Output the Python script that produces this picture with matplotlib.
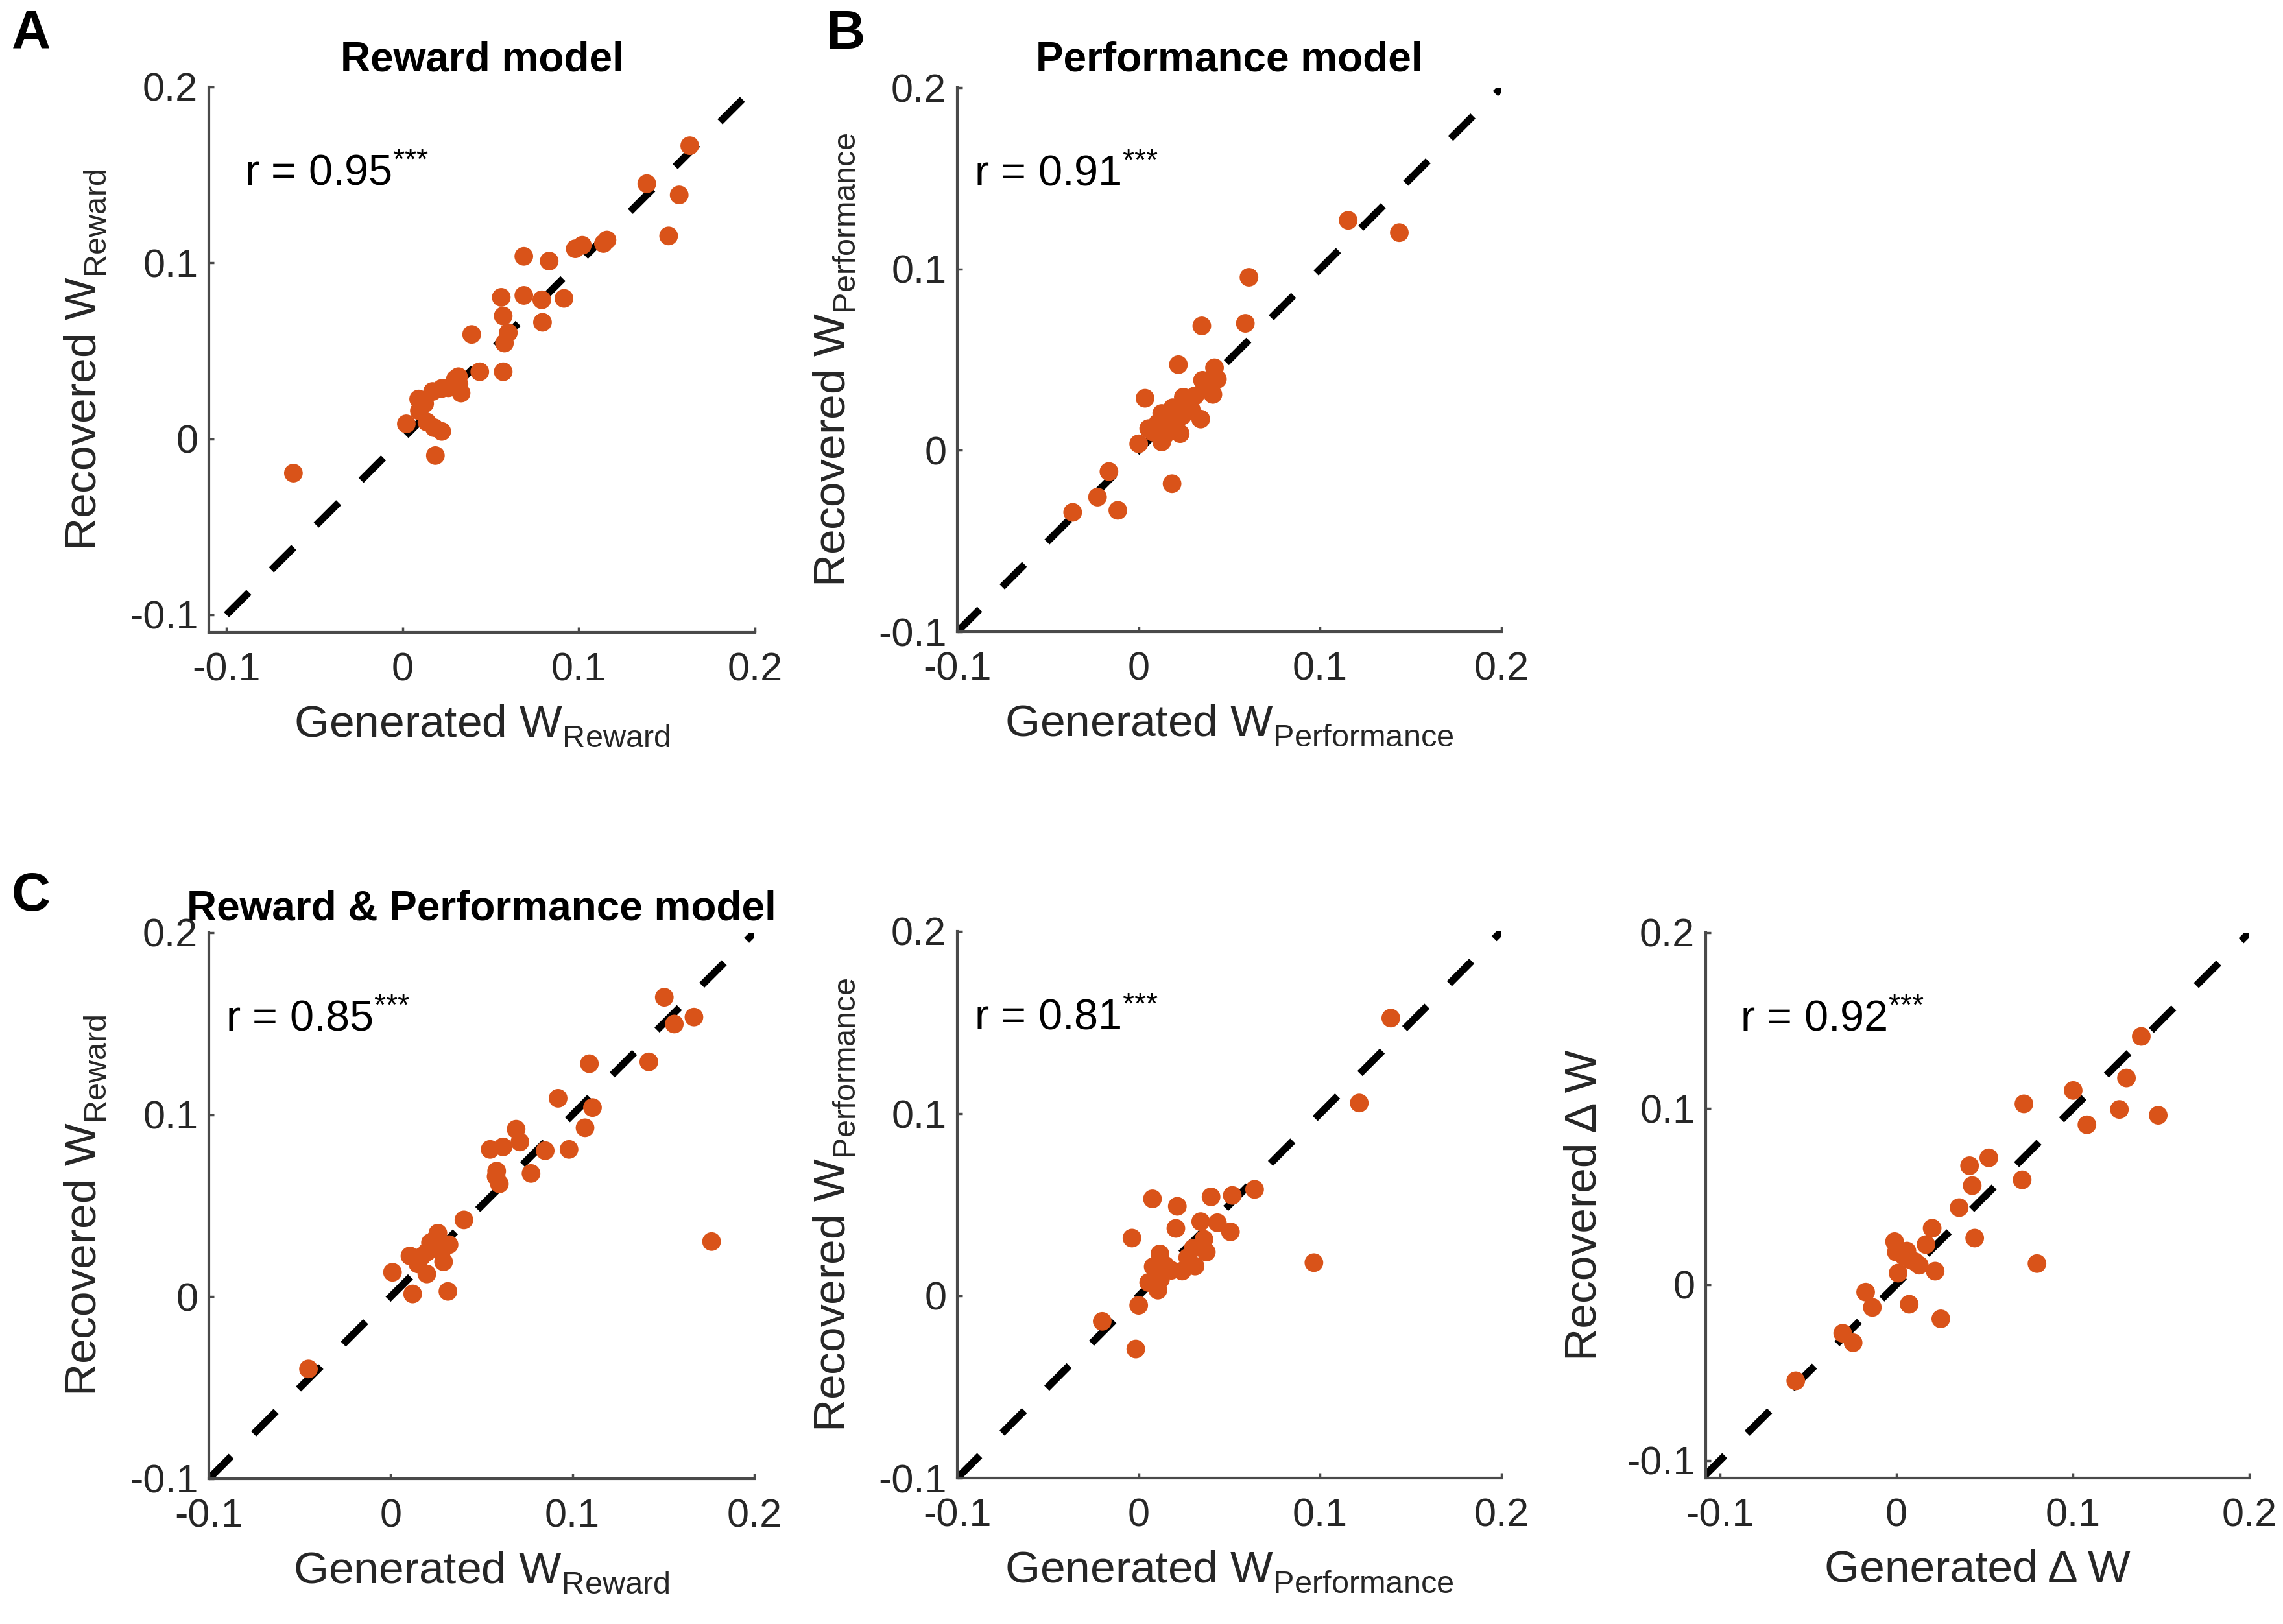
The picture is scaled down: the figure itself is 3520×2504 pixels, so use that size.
import matplotlib
matplotlib.use('Agg')
import matplotlib.pyplot as plt

plt.rcParams['font.family'] = ['Liberation Sans', 'DejaVu Sans']
plt.rcParams['mathtext.fontset'] = 'custom'
plt.rcParams['mathtext.rm'] = 'Liberation Sans'
plt.rcParams['mathtext.it'] = 'Liberation Sans:italic'
plt.rcParams['mathtext.bf'] = 'Liberation Sans:bold'
plt.rcParams['mathtext.default'] = 'regular'

# MATLAB drops subscripts lower than mathtext does
try:
    from matplotlib import _mathtext
    _mathtext.FontConstantsBase.sub1 = 0.45
    _mathtext.FontConstantsBase.sub2 = 0.55
except Exception:
    pass

dot_color = '#D95319'
axis_color = '#4a4a4a'
text_color = '#262626'

# A: reward model (generated, recovered)
a_gen = [-0.062, 0.163, 0.1386, 0.157, 0.151, 0.098, 0.102, 0.114, 0.116, 0.0688,
         0.0832, 0.0916, 0.056, 0.0688, 0.079, 0.0794, 0.0571, 0.060, 0.0578, 0.0392,
         0.0438, 0.0571, 0.0317, 0.0286, 0.0332, 0.0222, 0.017, 0.0091, 0.0095, 0.0021,
         0.0138, 0.018, 0.0222, 0.0186, 0.030, 0.0125, 0.026, 0.032]
a_rec = [-0.0195, 0.1666, 0.145, 0.1386, 0.1153, 0.108, 0.110, 0.111, 0.113, 0.1037,
         0.101, 0.0798, 0.0804, 0.0815, 0.079, 0.0662, 0.0698, 0.0603, 0.0544, 0.0593,
         0.0381, 0.0381, 0.0353, 0.0303, 0.026, 0.0286, 0.0269, 0.0226, 0.0159, 0.0085,
         0.0095, 0.0063, 0.0042, -0.0095, 0.034, 0.020, 0.029, 0.031]

# B: performance model
b_gen = [0.1155, 0.1437, 0.0608, 0.0348, 0.0588, 0.0219, 0.0418, 0.0434, 0.0352, 0.0409,
         0.0035, 0.0246, 0.0188, 0.0127, 0.0342, 0.0106, 0.0055, 0.0229, 0.0127, 0.0,
         0.0168, 0.029, -0.0164, -0.0227, -0.0364, -0.0115, 0.0184, 0.020, 0.0155, 0.008,
         0.027, 0.038, 0.031, 0.024, 0.0145]
b_rec = [0.1268, 0.12, 0.0954, 0.0686, 0.07, 0.0472, 0.0455, 0.0392, 0.0386, 0.0308,
         0.0287, 0.0293, 0.0235, 0.0203, 0.0172, 0.0151, 0.012, 0.0092, 0.0046, 0.0036,
         0.013, 0.0224, -0.0117, -0.0258, -0.0342, -0.0331, -0.0184, 0.018, 0.016, 0.010,
         0.026, 0.036, 0.030, 0.019, 0.0085]

# C: reward & performance model, reward weight
c1_gen = [0.1505, 0.156, 0.1668, 0.142, 0.1093, 0.0921, 0.111, 0.1069, 0.0981, 0.085,
          0.0772, 0.069, 0.0711, 0.0618, 0.0547, 0.0583, 0.0598, 0.1765, 0.0403, 0.026,
          0.0321, 0.0219, 0.0199, 0.0106, 0.0291, 0.0199, 0.001, 0.0121, 0.0315, -0.0452,
          0.017, 0.024, 0.028, 0.015, 0.058]
c1_rec = [0.1645, 0.1498, 0.1536, 0.129, 0.128, 0.109, 0.1039, 0.0928, 0.0809, 0.0802,
          0.0677, 0.092, 0.085, 0.0823, 0.0809, 0.069, 0.062, 0.0303, 0.0422, 0.0349,
          0.0286, 0.0297, 0.0245, 0.0224, 0.0192, 0.0125, 0.0134, 0.0015, 0.0029, -0.0397,
          0.022, 0.031, 0.025, 0.018, 0.066]

# C: performance weight
c2_gen = [0.139, 0.1216, 0.0639, 0.0516, 0.0399, 0.0076, 0.0213, 0.0205, 0.0506, 0.0434,
          0.0342, -0.0037, 0.0966, 0.0373, 0.0301, 0.0311, 0.024, 0.0117, 0.0147, 0.0055,
          0.0106, 0.0, -0.0201, -0.0016, 0.018, 0.012, 0.027, 0.036, 0.008]
c2_rec = [0.1524, 0.1058, 0.0584, 0.0551, 0.0543, 0.0532, 0.0491, 0.037, 0.0351, 0.0401,
          0.0407, 0.0317, 0.0182, 0.024, 0.0261, 0.0163, 0.0136, 0.023, 0.0167, 0.0073,
          0.0031, -0.0052, -0.014, -0.0292, 0.014, 0.009, 0.021, 0.031, 0.016]

# C: delta W
c3_gen = [0.1388, 0.1304, 0.1002, 0.0723, 0.1264, 0.1484, 0.108, 0.0524, 0.0415, 0.043,
          0.0713, 0.0356, 0.0203, 0.0444, -0.001, 0.0168, 0.0042, 0.0105, 0.0, 0.022,
          0.001, 0.0797, -0.0174, -0.0136, 0.0073, 0.0252, -0.0304, -0.0245, -0.057, 0.008,
          0.013, 0.006]
c3_rec = [0.141, 0.1174, 0.1103, 0.1027, 0.0995, 0.0962, 0.0908, 0.072, 0.0675, 0.0562,
          0.0595, 0.0437, 0.032, 0.0264, 0.0244, 0.0227, 0.0162, 0.013, 0.0184, 0.0076,
          0.0065, 0.0119, -0.0043, -0.013, -0.0112, -0.0195, -0.0277, -0.0331, -0.0547, 0.014,
          0.011, 0.019]

r_values = ['0.95', '0.91', '0.85', '0.81', '0.92']
ticks = [-0.1, 0, 0.1, 0.2]
tick_labels = ['-0.1', '0', '0.1', '0.2']

W, H = 3520, 2504
fig = plt.figure(figsize=(W / 100, H / 100), dpi=100)


def make_ax(l, r, t, b):
    return fig.add_axes([l / W, 1 - b / H, (r - l) / W, (b - t) / H])


def style(ax, gen, rec, rtext, xlab, ylab, xlim, ylim, line_start, r_x, ylab_x):
    ax.plot([line_start, 0.2], [line_start, 0.2], color='black', lw=8,
            ls=(0, (4.4, 4.4)), dash_capstyle='butt', zorder=1)
    ax.scatter(gen, rec, s=430, color=dot_color, edgecolors='none', zorder=2)
    ax.set_xlim(*xlim)
    ax.set_ylim(*ylim)
    ax.set_xticks(ticks)
    ax.set_xticklabels(tick_labels)
    ax.set_yticks(ticks)
    ax.set_yticklabels(tick_labels)
    for side in ['top', 'right']:
        ax.spines[side].set_visible(False)
    for side in ['left', 'bottom']:
        ax.spines[side].set_color(axis_color)
        ax.spines[side].set_linewidth(3)
    ax.tick_params(direction='in', length=6, width=2.5, color=axis_color,
                   labelcolor=text_color, labelsize=44)
    ax.tick_params(axis='x', pad=22)
    ax.tick_params(axis='y', pad=12)
    ax.text(r_x, 0.84, 'r = ' + rtext + '$^{{*}{*}{*}}$', transform=ax.transAxes,
            fontsize=48, color='black', va='center', ha='left')
    ax.set_xlabel(xlab, fontsize=50, color=text_color)
    ax.set_ylabel(ylab, fontsize=50, color=text_color)
    ax.xaxis.set_label_coords(0.5, -0.13)
    ax.yaxis.set_label_coords(ylab_x, 0.5)
    ax.set_facecolor('none')


axA = make_ax(322, 1164, 134, 975)
style(axA, a_gen, a_rec, r_values[0], 'Generated W$_{Reward}$', 'Recovered W$_{Reward}$',
      (-0.11, 0.2), (-0.11, 0.2), -0.1, 0.065, -0.185)
axA.set_title('Reward model', fontsize=46, fontweight='bold', pad=18)

axB = make_ax(1476, 2315, 135, 974)
style(axB, b_gen, b_rec, r_values[1], 'Generated W$_{Performance}$', 'Recovered W$_{Performance}$',
      (-0.1, 0.2), (-0.1, 0.2), -0.1, 0.031, -0.185)
axB.set_title('Performance model', fontsize=46, fontweight='bold', pad=18)

axC1 = make_ax(322, 1163, 1438, 2280)
style(axC1, c1_gen, c1_rec, r_values[2], 'Generated W$_{Reward}$', 'Recovered W$_{Reward}$',
      (-0.1, 0.2), (-0.1, 0.2), -0.1, 0.031, -0.185)
axC1.set_title('Reward & Performance model', fontsize=46, fontweight='bold', pad=14)

axC2 = make_ax(1476, 2315, 1436, 2279)
style(axC2, c2_gen, c2_rec, r_values[3], 'Generated W$_{Performance}$', 'Recovered W$_{Performance}$',
      (-0.1, 0.2), (-0.1, 0.2), -0.1, 0.031, -0.185)

axC3 = make_ax(2630, 3468, 1438, 2279)
style(axC3, c3_gen, c3_rec, r_values[4], 'Generated \u0394 W', 'Recovered \u0394 W',
      (-0.108, 0.2), (-0.11, 0.2), -0.11, 0.063, -0.185)

fig.text(18 / W, 1 - 14 / H, 'A', fontsize=60, fontweight='bold', va='top', ha='left')
fig.text(1273 / W, 1 - 14 / H, 'B', fontsize=60, fontweight='bold', va='top', ha='left')
fig.text(18 / W, 1 - 1343 / H, 'C', fontsize=60, fontweight='bold', va='top', ha='left')

fig.savefig('out.png', dpi=100, facecolor='white')
